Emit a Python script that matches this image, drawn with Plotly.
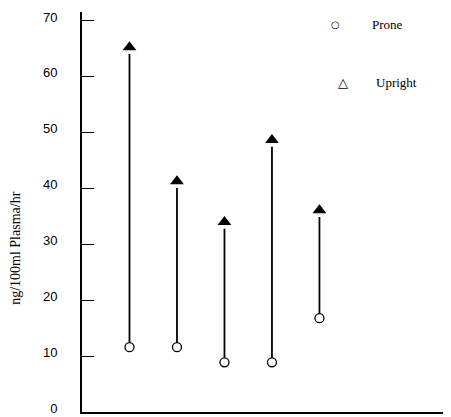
import plotly.graph_objects as go

subjects = [1, 2, 3, 4, 5]
prone = [11.6, 11.6, 8.9, 8.9, 16.8]
upright = [65.3, 41.3, 34.0, 48.7, 36.1]
tick_vals = [0, 10, 20, 30, 40, 50, 60, 70]
tick_text = ["0", "10", "20", "30", "40", "50", "60", "70"]
legend_labels = ["Prone", "Upright"]

fig = go.Figure()

# stems from prone to upright value
sx, sy = [], []
for s, p, u in zip(subjects, prone, upright):
    sx += [s, s, None]
    sy += [p, u - 1.2, None]
fig.add_trace(go.Scatter(x=sx, y=sy, mode="lines", line=dict(color="black", width=1.8),
                         showlegend=False, hoverinfo="skip"))

fig.add_trace(go.Scatter(x=subjects, y=prone, mode="markers", name=legend_labels[0],
                         showlegend=False,
                         marker=dict(symbol="circle", size=9, color="white",
                                     line=dict(color="black", width=1.3))))
fig.add_trace(go.Scatter(x=subjects, y=upright, mode="markers", name=legend_labels[1],
                         showlegend=False,
                         marker=dict(symbol="triangle-up", size=12, color="black")))

ann = dict(xref="paper", yref="paper", showarrow=False, yanchor="middle")
# legend drawn as text keys (open circle / open triangle as in the original)
fig.add_annotation(**ann, x=0.688, y=0.9675, text="○", xanchor="center",
                   font=dict(family="DejaVu Sans", size=10, color="black"))
fig.add_annotation(**ann, x=0.78, y=0.9675, text=legend_labels[0], xanchor="left",
                   font=dict(family="Liberation Serif", size=13, color="black"))
fig.add_annotation(**ann, x=0.707, y=0.825, text="△", xanchor="center",
                   font=dict(family="DejaVu Sans", size=13, color="black"))
fig.add_annotation(**ann, x=0.79, y=0.825, text=legend_labels[1], xanchor="left",
                   font=dict(family="Liberation Serif", size=13, color="black"))
# y-axis title
fig.add_annotation(**ann, x=-0.182, y=0.41, xanchor="center",
                   text="ng/100ml Plasma/hr", textangle=-90,
                   font=dict(family="Liberation Serif", size=14, color="black"))

# page body has an 8px margin, so the figure is sized/offset to compensate
fig.update_layout(
    width=443, height=409,
    margin=dict(l=74, r=0, t=4, b=5),
    plot_bgcolor="white", paper_bgcolor="white",
    font=dict(family="Liberation Serif", color="black", size=12),
    showlegend=False,
    xaxis=dict(range=[0, 7.77], showticklabels=False, ticks="", showgrid=False,
               zeroline=False, showline=True, linecolor="black", linewidth=2,
               automargin=False),
    yaxis=dict(range=[0, 71.6], tickvals=tick_vals, ticktext=tick_text,
               ticks="inside", ticklen=12, tickcolor="black", tickwidth=1,
               showgrid=False, zeroline=False, showline=True, linecolor="black",
               linewidth=2, ticklabelstandoff=20, automargin=False,
               ticklabeloverflow="allow", ticklabelshift=-4,
               tickfont=dict(family="Liberation Sans", size=13)),
)

fig.write_html("out.html")
